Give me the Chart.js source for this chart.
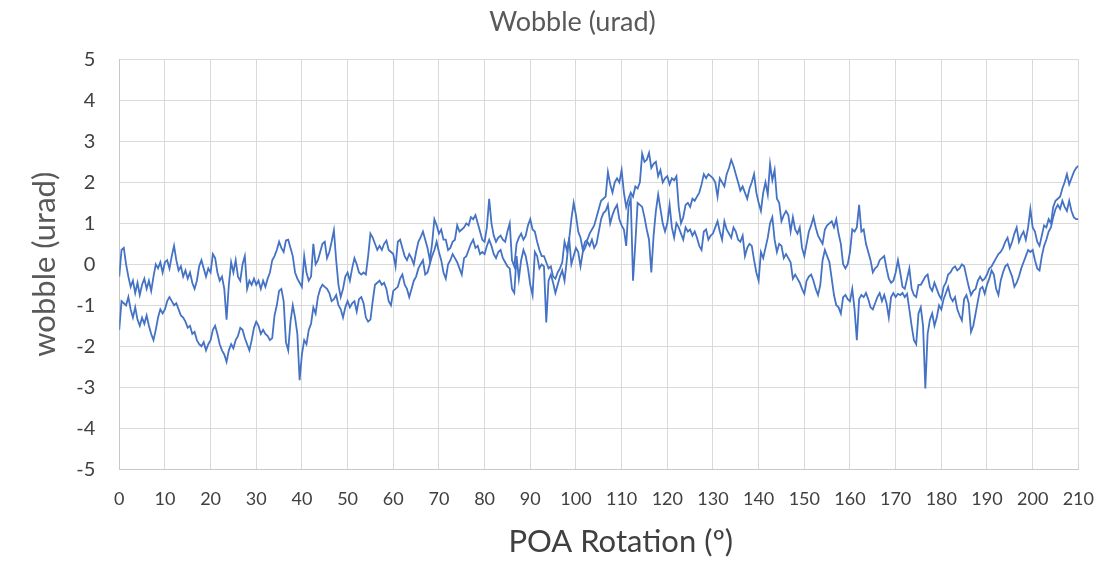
<!DOCTYPE html>
<html>
<head>
<meta charset="utf-8">
<title>Wobble (urad)</title>
<script src="https://cdn.jsdelivr.net/npm/chart.js@4"></script>
<style>
  html, body { margin: 0; padding: 0; background: #ffffff; }
  #wrap { width: 1101px; height: 563px; }
</style>
</head>
<body>
<div id="wrap"><canvas id="wobbleChart"></canvas></div>
<script>
// rotation sampled every half degree, 0 .. 210
const rotationStep = 0.5;
const rotationMax = 210;

// first pass (upper trace where the two separate)
const wobbleFwd = [
  -0.3, 0.35, 0.4, 0.0, -0.3, -0.55, -0.4, -0.7, -0.45, -0.75, -0.5, -0.35, -0.6, -0.4, -0.65, -0.3, 0.0, -0.1, 0.05, -0.2,
  0.05, 0.1, -0.1, 0.2, 0.45, 0.1, -0.15, -0.05, -0.3, -0.15, -0.35, -0.2, -0.45, -0.6, -0.4, -0.05, 0.1, -0.1, -0.3, -0.1,
  -0.2, 0.25, 0.15, -0.2, -0.4, -0.3, -0.6, -1.35, -0.5, 0.05, -0.2, 0.1, -0.3, -0.4, 0.0, 0.2, -0.6, -0.4, -0.5, -0.35,
  -0.5, -0.4, -0.6, -0.4, -0.55, -0.35, -0.2, 0.1, 0.2, 0.35, 0.55, 0.4, 0.3, 0.58, 0.6, 0.4, 0.2, -0.2, -0.35, -0.45,
  -0.55, 0.2, -0.2, -0.4, -0.3, 0.5, 0.0, 0.1, 0.3, 0.5, 0.55, 0.15, 0.3, 0.55, 0.83, 0.1, -0.5, -0.8, -0.6, -0.3,
  -0.2, -0.4, -0.1, 0.15, 0.0, -0.2, -0.25, -0.2, -0.25, 0.2, 0.75, 0.65, 0.5, 0.35, 0.45, 0.35, 0.5, 0.58, 0.35, 0.3,
  0.25, -0.05, 0.55, 0.6, 0.4, 0.2, 0.1, 0.25, 0.15, 0.0, 0.3, 0.55, 0.66, 0.8, 0.6, 0.4, 0.1, 0.5, 1.1, 0.95,
  0.75, 0.85, 0.6, 0.6, 0.35, 0.4, 0.55, 0.6, 0.95, 0.8, 0.85, 0.9, 1.0, 0.95, 1.15, 1.1, 1.2, 1.0, 0.8, 0.6,
  0.55, 0.9, 1.6, 1.0, 0.7, 0.55, 0.65, 0.7, 0.6, 0.55, 0.8, 1.0, 0.1, -0.05, 0.5, 0.65, 0.75, 0.6, 0.7, 0.95,
  1.1, 0.85, 0.8, 0.55, 0.35, 0.2, 0.2, 0.05, -0.1, -0.05, -0.3, -0.35, -0.2, -0.1, 0.05, 0.55, 0.35, 0.6, 1.1, 1.5,
  1.2, 0.8, 0.65, 0.35, 0.55, 0.6, 0.75, 0.85, 0.95, 1.15, 1.35, 1.55, 1.6, 1.65, 2.25, 1.95, 1.75, 2.0, 2.1, 2.0,
  2.3, 1.75, 1.4, 1.6, 1.75, 1.65, 1.9, 1.85, 2.0, 2.7, 2.5, 2.55, 2.72, 2.35, 2.45, 2.5, 2.15, 2.3, 2.0, 2.1,
  2.15, 1.95, 2.1, 2.05, 2.15, 1.4, 1.0, 1.15, 1.45, 1.5, 1.4, 1.6, 1.55, 1.65, 1.75, 1.95, 2.2, 2.1, 2.2, 2.15,
  2.1, 2.0, 1.65, 2.1, 2.0, 1.9, 2.2, 2.35, 2.55, 2.4, 2.2, 2.0, 1.8, 1.9, 1.75, 1.6, 1.85, 2.0, 2.2, 1.75,
  1.5, 1.3, 1.75, 2.0, 1.7, 2.45, 2.05, 2.3, 1.6, 1.5, 1.05, 1.2, 1.3, 1.2, 0.8, 1.15, 0.85, 0.75, 0.9, 0.4,
  0.2, 0.5, 0.8, 0.95, 1.15, 0.9, 0.7, 0.6, 0.5, 0.85, 0.95, 1.0, 1.05, 0.9, 1.1, 0.75, 0.5, 0.0, -0.1, 0.0,
  0.3, 0.85, 0.8, 0.9, 1.45, 0.8, 0.85, 0.5, 0.3, 0.1, -0.2, -0.1, -0.05, 0.1, 0.15, 0.2, -0.1, -0.35, -0.45, -0.4,
  -0.2, 0.1, -0.2, -0.55, -0.6, -0.35, -0.1, -0.6, -0.75, -0.8, -0.5, -0.5, -0.4, -0.3, -0.25, -0.55, -0.65, -0.45, -0.6, -0.75,
  -0.85, -0.55, -0.45, -0.25, -0.2, -0.1, -0.05, -0.15, -0.1, 0.0, -0.05, -0.3, -0.55, -0.75, -0.65, -0.6, -0.4, -0.3, -0.4, -0.35,
  -0.25, -0.1, -0.05, 0.05, 0.15, 0.25, 0.3, 0.4, 0.55, 0.65, 0.4, 0.55, 0.75, 0.9, 0.55, 0.7, 0.8, 0.6, 0.9, 1.35,
  0.9, 0.8, 0.55, 0.45, 0.7, 0.95, 0.9, 1.1, 1.0, 1.4, 1.55, 1.6, 1.65, 1.85, 2.0, 2.2, 1.95, 2.1, 2.25, 2.35,
  2.4
];

// second pass (lower trace where the two separate)
const wobbleRev = [
  -1.6, -0.9, -0.95, -1.0, -0.8, -1.1, -1.3, -1.05, -1.35, -1.5, -1.3, -1.45, -1.25, -1.5, -1.7, -1.85, -1.6, -1.3, -1.1, -1.2,
  -1.1, -0.9, -0.8, -0.9, -1.0, -0.95, -1.1, -1.25, -1.3, -1.4, -1.55, -1.5, -1.7, -1.65, -1.85, -1.95, -2.0, -1.9, -2.1, -1.95,
  -1.85, -1.6, -1.5, -1.7, -1.95, -2.1, -2.2, -2.38, -2.1, -1.95, -2.05, -1.85, -1.75, -1.55, -1.6, -1.8, -1.95, -2.1, -1.85, -1.55,
  -1.4, -1.5, -1.7, -1.6, -1.7, -1.75, -1.85, -1.8, -1.25, -1.0, -0.65, -0.6, -0.9, -1.9, -2.1, -1.4, -1.0, -1.3, -1.7, -2.83,
  -2.2, -1.85, -1.95, -1.6, -1.45, -1.05, -1.2, -0.8, -0.6, -0.5, -0.55, -0.6, -0.7, -0.9, -0.85, -0.75, -1.0, -1.1, -1.3, -1.05,
  -0.9, -1.05, -0.95, -0.9, -1.15, -0.85, -0.8, -0.95, -1.3, -1.4, -1.35, -0.9, -0.5, -0.45, -0.4, -0.5, -0.45, -0.6, -0.9, -1.0,
  -0.65, -0.6, -0.55, -0.35, -0.25, -0.5, -0.6, -0.8, -0.6, -0.4, -0.3, -0.1, 0.0, 0.1, -0.25, -0.2, 0.0, 0.2, 0.35, 0.55,
  0.3, 0.1, -0.2, -0.35, 0.0, 0.1, 0.25, 0.15, 0.05, -0.1, -0.25, 0.15, 0.2, 0.35, 0.5, 0.6, 0.4, 0.45, 0.25, 0.3,
  0.25, 0.45, 0.6, 0.45, 0.25, 0.15, 0.3, 0.35, 0.15, 0.05, -0.05, -0.1, -0.6, -0.7, 0.2, -0.35, 0.1, 0.35, 0.2, -0.1,
  -0.5, -0.75, 0.3, 0.2, -0.1, 0.0, -0.05, -1.42, -0.4, -0.25, -0.45, -0.7, -0.5, -0.3, -0.15, -0.4, 0.1, 0.65, 0.0, 0.2,
  0.4, 0.3, -0.05, 0.3, 0.4, 0.55, 0.45, 0.6, 0.4, 0.5, 0.8, 1.1, 1.25, 1.3, 1.45, 1.0, 1.2, 1.35, 1.45, 1.1,
  0.95, 0.85, 0.45, 1.4, 1.6, -0.4, 0.5, 1.5, 1.45, 1.4, 1.15, 0.85, 0.6, -0.2, 0.7, 1.3, 1.7, 1.35, 1.0, 0.8,
  1.0, 1.45, 0.9, 0.65, 1.0, 0.9, 0.75, 0.6, 0.9, 0.8, 0.85, 0.7, 0.8, 0.65, 0.45, 0.35, 0.8, 0.85, 0.6, 0.7,
  0.75, 0.9, 1.05, 0.8, 0.6, 1.05, 0.85, 0.75, 0.65, 0.9, 0.8, 0.6, 0.55, 0.7, 0.2, 0.4, 0.5, 0.45, 0.1, -0.2,
  -0.4, 0.3, 0.15, 0.4, 0.65, 1.0, 1.15, 0.6, 0.3, 0.5, 0.45, 0.15, 0.25, 0.15, 0.05, -0.35, -0.25, -0.35, -0.45, -0.6,
  -0.72, -0.4, -0.3, -0.25, -0.4, -0.6, -0.75, -0.5, 0.1, 0.35, 0.2, 0.05, -0.35, -0.75, -1.0, -1.05, -1.2, -0.8, -0.75, -0.85,
  -0.9, -0.6, -1.1, -1.85, -0.85, -0.75, -0.8, -0.7, -0.85, -1.05, -1.1, -0.95, -0.8, -0.7, -0.9, -0.75, -0.95, -1.3, -0.8, -0.7,
  -0.8, -0.72, -0.75, -0.7, -0.8, -0.72, -1.1, -1.5, -1.85, -1.95, -1.2, -1.05, -1.5, -3.03, -1.7, -1.35, -1.2, -1.5, -1.3, -1.0,
  -1.1, -0.85, -0.7, -0.55, -0.8, -0.9, -0.8, -1.1, -1.25, -1.37, -0.85, -0.75, -0.95, -1.65, -1.5, -1.2, -0.9, -0.6, -0.55, -0.72,
  -0.5, -0.35, -0.15, -0.25, -0.6, -0.75, -0.4, -0.2, -0.05, 0.0, -0.15, -0.3, -0.55, -0.45, -0.3, -0.1, 0.05, 0.2, 0.35, 0.3,
  0.35, 0.1, -0.1, -0.15, 0.2, 0.45, 0.6, 0.8, 0.9, 1.15, 1.35, 1.45, 1.35, 1.55, 1.4, 1.3, 1.55, 1.3, 1.15, 1.1,
  1.1
];

const lineColor = '#4472C4';
const gridColor = '#d9d9d9';

function toPoints(values) {
  return values.map((v, i) => ({ x: i * rotationStep, y: v }));
}

// Excel centres both titles over the whole chart, not the plot area: nudge ours right
const titleShift = {
  id: 'titleShift',
  afterLayout(chart) {
    if (chart.titleBlock) {
      chart.titleBlock.left += 33;
      chart.titleBlock.right += 33;
    }
    const xScale = chart.scales.x;
    if (!xScale._shifted) {
      const drawTitle = xScale.drawTitle;
      xScale.drawTitle = function () {
        this.ctx.save();
        this.ctx.translate(22, 0);
        drawTitle.call(this);
        this.ctx.restore();
      };
      xScale._shifted = true;
    }
  }
};

Chart.defaults.font.family = 'Lato, "Open Sans", sans-serif';

const ctx = document.getElementById('wobbleChart');

new Chart(ctx, {
  type: 'line',
  data: {
    datasets: [
      {
        label: 'Wobble',
        data: toPoints(wobbleFwd),
        borderColor: lineColor,
        borderWidth: 1.8,
        pointRadius: 0,
        tension: 0,
        fill: false
      },
      {
        label: 'Wobble (return)',
        data: toPoints(wobbleRev),
        borderColor: lineColor,
        borderWidth: 1.8,
        pointRadius: 0,
        tension: 0,
        fill: false
      }
    ]
  },
  options: {
    responsive: true,
    maintainAspectRatio: false,
    animation: false,
    layout: {
      padding: { top: 0, left: 0, right: 22, bottom: 0 }
    },
    plugins: {
      legend: { display: false },
      tooltip: { enabled: false },
      title: {
        display: true,
        text: 'Wobble (urad)',
        color: '#595959',
        font: { size: 27, weight: 'normal' },
        padding: { top: 6, bottom: 21 }
      }
    },
    scales: {
      x: {
        type: 'linear',
        min: 0,
        max: rotationMax,
        grid: {
          color: gridColor,
          drawTicks: true,
          tickLength: 12,
          tickColor: 'rgba(0,0,0,0)'
        },
        border: { color: '#c8c8c8' },
        ticks: {
          stepSize: 10,
          padding: 7,
          color: '#404040',
          font: { size: 18 },
          maxRotation: 0,
          autoSkip: false
        },
        title: {
          display: true,
          text: 'POA Rotation (º)',
          color: '#404040',
          font: { size: 31 },
          padding: { top: 7, bottom: 2 }
        }
      },
      y: {
        min: -5,
        max: 5,
        grid: {
          color: gridColor,
          drawTicks: true,
          tickLength: 16,
          tickColor: 'rgba(0,0,0,0)'
        },
        border: { color: '#c8c8c8' },
        ticks: {
          stepSize: 1,
          padding: 8,
          color: '#404040',
          font: { size: 20 }
        },
        title: {
          display: true,
          text: 'wobble (urad)',
          color: '#595959',
          font: { size: 31 },
          padding: { top: 26, bottom: 5 }
        }
      }
    }
  },
  plugins: [titleShift]
});
</script>
</body>
</html>
